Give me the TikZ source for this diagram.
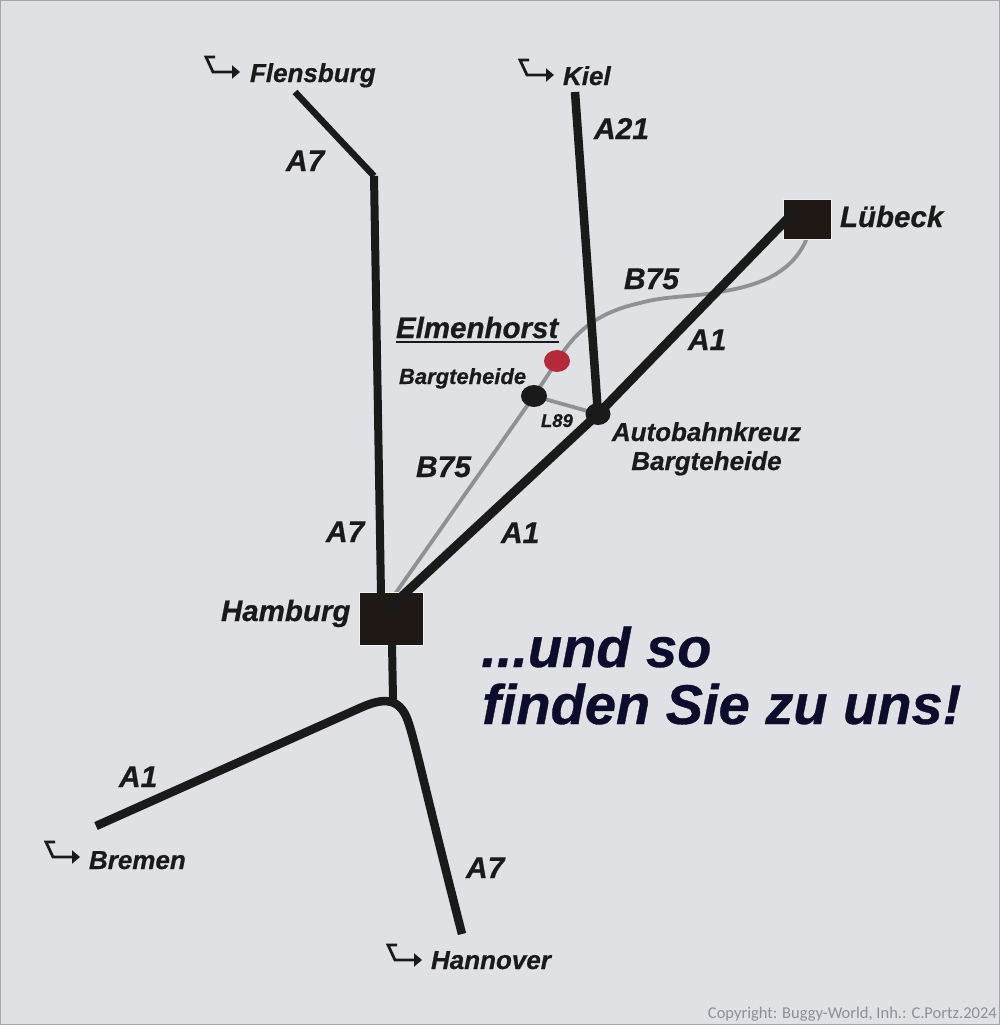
\documentclass[tikz,border=0pt]{standalone}
\usepackage{fontspec}
\setmainfont[BoldItalicFeatures={FakeBold=0.6}]{Liberation Sans}
\newfontfamily\copyfont{Carlito}
\usetikzlibrary{arrows.meta,shapes.geometric}
\definecolor{bgc}{HTML}{DFE1E4}
\definecolor{ink}{HTML}{1B1A1A}
\definecolor{boxc}{HTML}{1F1814}
\definecolor{grayroad}{HTML}{8F9195}
\definecolor{redpt}{HTML}{B42A3A}
\definecolor{navy}{HTML}{0C0C2C}
\definecolor{copyc}{HTML}{8C9096}
\tikzset{
  x=1pt,y=-1pt,
  lab/.style={anchor=base west,inner sep=0pt,outer sep=0pt,text=ink,font=\bfseries\itshape\fontsize{#1}{#1}\selectfont},
  labc/.style={lab=#1,anchor=base},
  big/.style={anchor=base west,inner sep=0pt,text=navy,font=\bfseries\itshape\fontsize{56}{56}\selectfont},
  road/.style={draw=ink,line width=#1,line join=round},
  minor/.style={draw=grayroad,line width=#1},
  city/.style={fill=boxc,draw=white!50!bgc,line width=.4pt,inner sep=0pt},
  junction/.style={ellipse,fill=#1,inner sep=0pt},
  turn/.pic={\draw[ink,line width=2.8pt,-{Triangle[length=8pt,width=13pt]}] (9,-15) -- (0,-15) -- (7,0) -- (34,0);}
}
\begin{document}
\begin{tikzpicture}
\useasboundingbox (0,0) rectangle (1000,1025);
\fill[bgc] (0,0) rectangle (1000,1025);
\draw[gray!70,line width=1pt] (.5,.5) rectangle (999.5,1024.5);

% named points
\coordinate (flStart) at (295,92);
\coordinate (flMid) at (340,140);
\coordinate (flBend) at (374,176);
\coordinate (kielStart) at (575,92);
\coordinate (hhC) at (385,612);
\coordinate (hhTop) at (381,595);
\coordinate (hhB75) at (395,594);
\coordinate (hhBot) at (392,643);
\coordinate (fork) at (393,700);
\coordinate (brStart) at (96,826);
\coordinate (hnEnd) at (462,934);
\coordinate (lbC) at (795,211);
\coordinate (lbB75) at (807,238);

% minor roads
\draw[minor=3.8pt] (hhB75) -- (534,396) -- (557,361)
  .. controls (572,338) and (590,314) .. (640,303)
  .. controls (665,296) and (690,297) .. (713,293)
  .. controls (745,288) and (790,280) .. (lbB75);
\draw[minor=3.8pt] (534,396) -- (598,414);

% cities
\node[city,minimum width=64pt,minimum height=53pt] (hh) at (391,618.5) {};
\node[city,minimum width=48pt,minimum height=40pt] (lb) at (807,219) {};

% motorways
\draw[road=6.5pt] (flStart) -- (flMid) -- (flBend);
\draw[road=8pt] (flBend) -- (hhTop);
\draw[road=8.5pt] (kielStart) -- (598,414);
\draw[road=9pt] (hhC) -- (598,414) -- (lbC);
\draw[road=8pt] (hhBot) -- (fork);
\draw[road=8.5pt] (brStart) -- (360,708) .. controls (378,700) and (396,695) .. (406,716)
  .. controls (414,735) and (420,770) .. (hnEnd);

% points
\node[junction=ink,minimum width=26pt,minimum height=22pt] (bt) at (534,396) {};
\node[junction=redpt,minimum width=26pt,minimum height=22pt] (el) at (557,361) {};
\node[junction=ink,minimum width=25pt,minimum height=22pt] (kr) at (598,414) {};

% turn-off arrows
\pic at (206,72) {turn};
\pic at (520,75) {turn};
\pic at (46,857) {turn};
\pic at (388,960) {turn};

% labels
\node[lab=26] (tFl) at (250,82) {Flensburg};
\node[lab=26] (tKi) at (563,85) {Kiel};
\node[lab=26] (tBr) at (89,869) {Bremen};
\node[lab=26] (tHn) at (431,969) {Hannover};
\node[lab=29.5] (tLb) at (840,227) {Lübeck};
\node[lab=29.5] (tHh) at (221,621) {Hamburg};
\node[lab=29.5] (tEl) at (396,338) {Elmenhorst};
\draw[ink,line width=2pt] (396,342) -- (559,342);
\node[lab=22] (tBt) at (399,384) {Bargteheide};
\node[lab=18.5] (tL) at (541,427) {L89};
\node[labc=26] (tAk) at (706.5,441) {Autobahnkreuz};
\node[labc=26] (tAk2) at (706.5,470) {Bargteheide};
\node[lab=30] (a7a) at (286,171) {A7};
\node[lab=30] (a7b) at (326,542) {A7};
\node[lab=30] (a7c) at (466,878) {A7};
\node[lab=30] (a21) at (594,139) {A21};
\node[lab=30] (b75a) at (624,289) {B75};
\node[lab=30] (b75b) at (416,477) {B75};
\node[lab=30] (a1a) at (688,350) {A1};
\node[lab=30] (a1b) at (501,543) {A1};
\node[lab=30] (a1c) at (119,787) {A1};
\node[big] (s1) at (481,667) {...und so};
\node[big] (s2) at (482,724) {finden Sie zu uns!};
\node[anchor=base east,inner sep=0pt,text=copyc,font=\copyfont\fontsize{16.5}{16.5}\selectfont] (cp) at (997,1018) {Copyright: Buggy-World, Inh.: C.Portz.2024};
\end{tikzpicture}
\end{document}
